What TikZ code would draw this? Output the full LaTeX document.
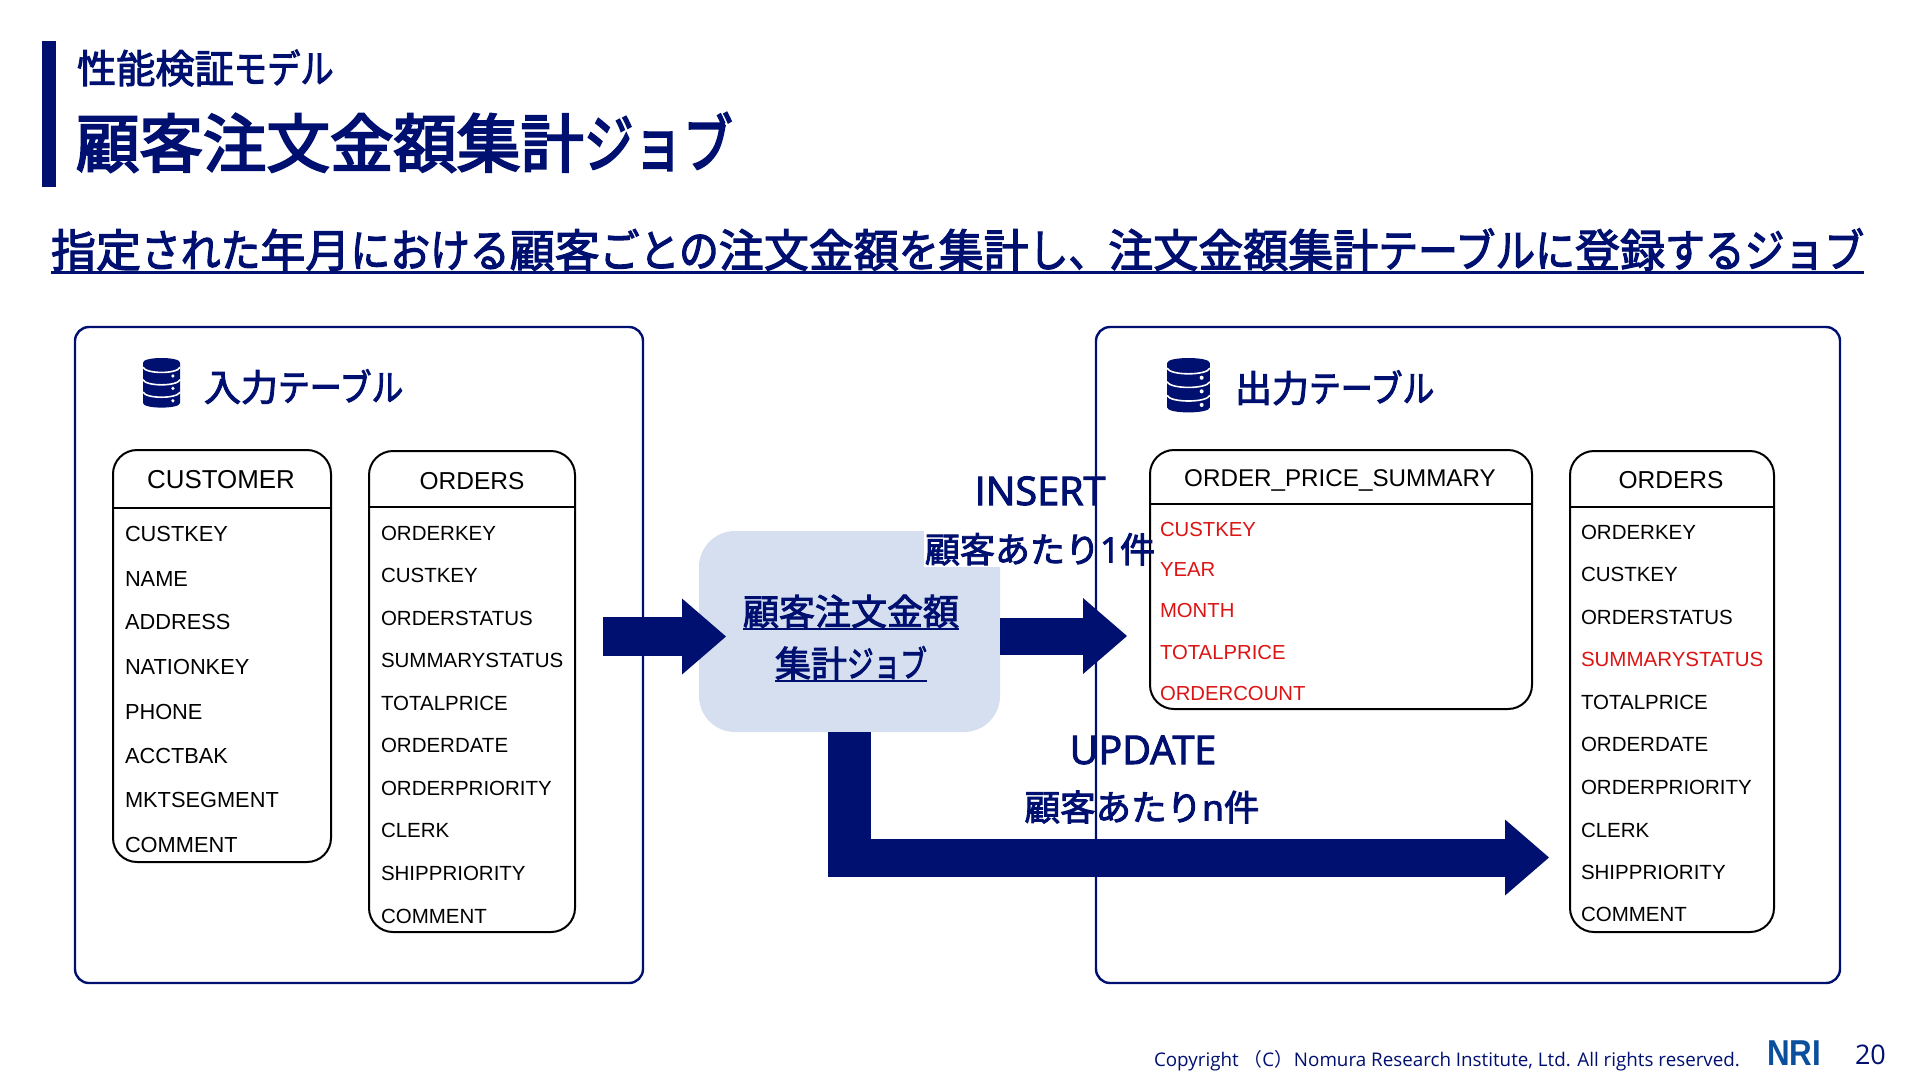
\documentclass[tikz,border=0pt]{standalone}
\usepackage{fontspec}
\usetikzlibrary{arrows.meta}
\setmainfont{Liberation Sans}
\newfontfamily\jp[FakeBold=2.6]{Noto Sans CJK JP}
\newfontfamily\jpt[FakeBold=3.4]{Noto Sans CJK JP}
\newfontfamily\jpr{Noto Sans CJK JP}
\newfontfamily\op{Open Sans}
\newfontfamily\opm[FakeBold=2.6]{Open Sans}
\definecolor{navy}{HTML}{001070}
\definecolor{jobfill}{HTML}{D6DFEF}
\definecolor{tblred}{HTML}{DC1414}
\definecolor{nriblue}{HTML}{0A4F9E}
\newcommand{\fs}[1]{\fontsize{#1}{#1}\selectfont}
\newcommand{\ulb}[3]{\setbox0=\hbox{#3}\rlap{\raisebox{-#1}{\rule{\wd0}{#2}}}\box0}
\newcommand{\kn}[2]{\scalebox{#1}[1]{#2}}
\tikzset{
  panel/.style={draw=navy,line width=2.4pt,rounded corners=14pt,fill=none},
  tbl/.style={draw=black,line width=2pt,rounded corners=24pt,inner sep=0pt,fill=none},
  tblline/.style={draw=black,line width=2pt},
  txt/.style={inner sep=0pt,outer sep=0pt,anchor=base west},
  ctxt/.style={inner sep=0pt,outer sep=0pt,anchor=base},
  bigarrow/.style={draw=navy,line width=#1,-{Triangle[length=44pt,width=76pt,line width=0pt,fill=navy]}},
  job/.style={fill=jobfill,rounded corners=36pt,inner sep=0pt}
}
\newcommand{\dbicon}[5]{% name, x, y, xscale, yscale
  \begin{scope}[shift={(#2,#3)},xscale=#4,yscale=#5]
    \fill[navy] (0,15) .. controls (0,-5) and (130,-5) .. (130,15) -- (130,145) .. controls (130,165) and (0,165) .. (0,145) -- cycle;
    \foreach \d in {0,40,80}{
      \draw[white,line width=1.6pt] (0,30+\d) .. controls (10,52+\d) and (120,52+\d) .. (130,30+\d);
      \fill[white] (105,58+\d) circle (6);
    }
  \end{scope}}
\begin{document}
\begin{tikzpicture}[x=1pt,y=-1pt]
\useasboundingbox (0,0) rectangle (1920,1080);
\fill[white] (0,0) rectangle (1920,1080);
% title block
\fill[navy] (42,41) rectangle (56,187);
\node[txt,text=navy] (sub) at (77,83) {\jp\fs{39.2}性能検証\kn{0.85}{モデル}};
\node[txt,text=navy] (title) at (76,167) {\jpt\fs{63.5}顧客注文金額集計\kn{0.78}{ジョブ}};
\node[txt,text=navy] (head) at (51,267) {\jp\fs{45}\ulb{7pt}{2.6pt}{指定\kn{0.885}{された}年月\kn{0.885}{における}顧客\kn{0.885}{ごとの}注文金額\kn{0.885}{を}集計\kn{0.885}{し、}注文金額集計\kn{0.885}{テーブルに}登録\kn{0.885}{するジョブ}}};
% job box and panels
\node[job,minimum width=301pt,minimum height=201pt] (jobbox) at (849.5,631.5) {};
\fill[white] (924,529) rectangle (1003,567);
\draw[panel] (75,327) rectangle (643,983);
\draw[panel] (1096,327) rectangle (1840,983);
% panel titles
\dbicon{a}{143}{358}{0.285}{0.31}
\dbicon{b}{1167}{358}{0.33}{0.34}
\node[txt,text=navy] (intitle) at (204,401) {\jp\fs{37}入力\kn{0.86}{テーブル}};
\node[txt,text=navy] (outtitle) at (1235,402) {\jp\fs{37}出力\kn{0.86}{テーブル}};
% CUSTOMER
\node[tbl,minimum width=218pt,minimum height=412pt] (cust) at (222,656) {};
\draw[tblline] (cust.west |- 0,508) -- (cust.east |- 0,508);
\node[ctxt] (custh) at (221,488) {\fs{25.9}CUSTOMER};
\foreach \t/\y [count=\i] in {CUSTKEY/534,NAME/579,ADDRESS/622,NATIONKEY/667,PHONE/712,ACCTBAK/756,MKTSEGMENT/800,COMMENT/845}
  \node[txt] (cust\i) at (125,\y+7.7) {\fs{21.8}\t};
% ORDERS in
\node[tbl,minimum width=206pt,minimum height=481pt] (ordi) at (472,691.5) {};
\draw[tblline] (ordi.west |- 0,507) -- (ordi.east |- 0,507);
\node[ctxt] (ordih) at (472,489) {\fs{24.5}ORDERS};
\foreach \t/\y [count=\i] in {ORDERKEY/533,CUSTKEY/575,ORDERSTATUS/618,SUMMARYSTATUS/660,TOTALPRICE/703,ORDERDATE/745,ORDERPRIORITY/788,CLERK/830,SHIPPRIORITY/873,COMMENT/916}
  \node[txt] (ordi\i) at (381,\y+7.2) {\fs{20.5}\t};
% summary
\node[tbl,minimum width=382pt,minimum height=259pt] (sum) at (1341,579.5) {};
\draw[tblline] (sum.west |- 0,504) -- (sum.east |- 0,504);
\node[ctxt] (sumh) at (1340,486) {\fs{24.2}ORDER\_PRICE\_SUMMARY};
\foreach \t/\y [count=\i] in {CUSTKEY/529,YEAR/569,MONTH/610,TOTALPRICE/652,ORDERCOUNT/693}
  \node[txt,text=tblred] (sum\i) at (1160,\y+7.2) {\fs{20.3}\t};
% ORDERS out
\node[tbl,minimum width=204pt,minimum height=481pt] (ordo) at (1672,691.5) {};
\draw[tblline] (ordo.west |- 0,507) -- (ordo.east |- 0,507);
\node[ctxt] (ordoh) at (1671,488) {\fs{24.5}ORDERS};
\foreach \t/\y/\c [count=\i] in {ORDERKEY/532/black,CUSTKEY/574/black,ORDERSTATUS/617/black,SUMMARYSTATUS/659/tblred,TOTALPRICE/702/black,ORDERDATE/744/black,ORDERPRIORITY/787/black,CLERK/830/black,SHIPPRIORITY/872/black,COMMENT/914/black}
  \node[txt,text=\c] (ordo\i) at (1581,\y+7.2) {\fs{20.5}\t};
% arrows
\coordinate (a1s) at (603,636.5);
\coordinate (a1e) at (726,636.5);
\coordinate (a2e) at (1127,636);
\coordinate (a3c) at (849.5,877);
\coordinate (a3s) at (828,857.5);
\coordinate (a3e) at (1549,857.5);
\draw[bigarrow=39pt] (a1s) -- (a1e);
\draw[bigarrow=37pt] (jobbox.east |- a2e) -- (a2e);
\draw[draw=navy,line width=43pt] (jobbox.south) -- (a3c);
\draw[bigarrow=38pt] (a3s) -- (a3e);
% job text
\node[ctxt,text=navy] (j1) at (851,625) {\jp\fs{36}\ulb{5pt}{2pt}{顧客注文金額}};
\node[ctxt,text=navy] (j2) at (851,677) {\jp\fs{36}\ulb{5pt}{2pt}{集計\kn{0.74}{ジョブ}}};
% labels
\node[ctxt,text=navy] (l1) at (1040,505) {\opm\fs{39.5}INSERT};
\node[ctxt,text=navy] (l2) at (1040,562.5) {\jp\fs{35}顧客あたり{\opm 1}件};
\node[ctxt,text=navy] (l3) at (1143,764) {\opm\fs{39.5}UPDATE};
\node[ctxt,text=navy] (l4) at (1142,820.5) {\jp\fs{35.5}顧客あたり{\opm n}件};
% footer
\node[txt,text=navy] (copy) at (1154,1066) {\op\fs{18.8}Copyright {\jpr（}C{\jpr）}\hspace{-4pt} Nomura Research Institute, Ltd. All rights reserved.};
\node[txt,text=nriblue] (nri) at (1767,1065) {\fs{36}\bfseries\scalebox{0.87}[1]{NRI}};
\node[txt,text=navy] (page) at (1855,1064) {\op\fs{27}20};
\end{tikzpicture}
\end{document}
